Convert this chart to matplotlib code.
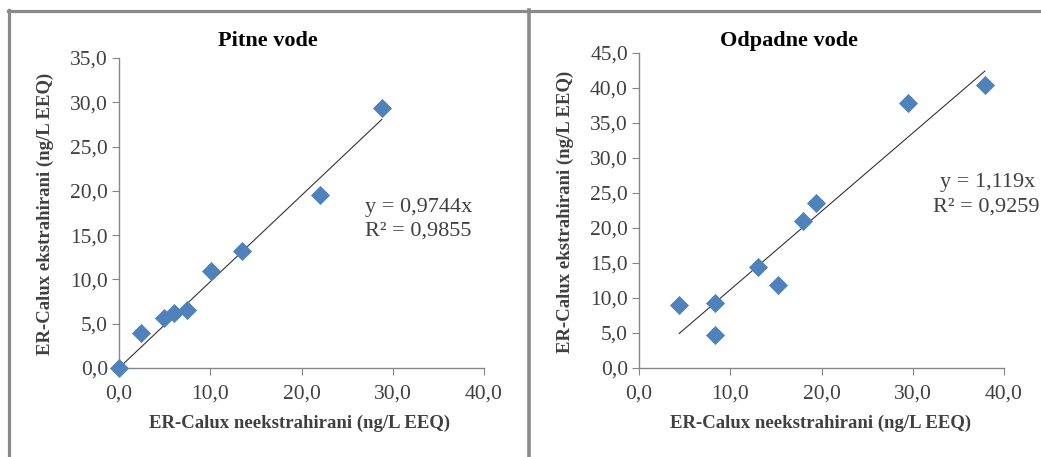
import matplotlib
matplotlib.use("Agg")
import matplotlib.pyplot as plt
from matplotlib.lines import Line2D
import numpy as np

plt.rcParams['font.family'] = ['Liberation Serif', 'DejaVu Serif']

# Pitne vode (drinking water)
pitne_x = [0.0, 2.4, 4.9, 6.0, 7.5, 10.1, 13.5, 22.0, 28.8]
pitne_y = [0.0, 4.0, 5.6, 6.2, 6.6, 11.0, 13.2, 19.5, 29.4]
pitne_slope = 0.9744
pitne_r2 = 0.9855

# Odpadne vode (waste water)
odpadne_x = [4.4, 8.3, 8.3, 13.0, 15.2, 18.0, 19.4, 29.5, 37.9]
odpadne_y = [9.0, 9.3, 4.7, 14.4, 11.8, 21.0, 23.6, 37.9, 40.5]
odpadne_slope = 1.119
odpadne_r2 = 0.9259

x_ticks = [0, 10, 20, 30, 40]
pitne_yticks = [0, 5, 10, 15, 20, 25, 30, 35]
odpadne_yticks = [0, 5, 10, 15, 20, 25, 30, 35, 40, 45]

xlabel = 'ER-Calux neekstrahirani (ng/L EEQ)'
ylabel = 'ER-Calux ekstrahirani (ng/L EEQ)'

W, H = 1041, 457
fig = plt.figure(figsize=(W / 100, H / 100), dpi=100)

BLUE = '#4F81BD'
AXC = '#868686'
TXT = '#404040'


def fmt(v):
    return f'{v:.1f}'.replace('.', ',')


def setup(ax, xs, ys, slope, yticks):
    ax.scatter(xs, ys, marker='D', s=95, color=BLUE, zorder=3, linewidths=0,
               clip_on=False)
    xx = np.array([min(xs), max(xs)])
    ax.plot(xx, slope * xx, color='#333333', lw=0.8, zorder=2)
    ax.set_xlim(0, 40)
    ax.set_ylim(0, yticks[-1])
    ax.set_xticks(x_ticks)
    ax.set_xticklabels([fmt(t) for t in x_ticks])
    ax.set_yticks(yticks)
    ax.set_yticklabels([fmt(t) for t in yticks])
    for s in ['top', 'right']:
        ax.spines[s].set_visible(False)
    for s in ['left', 'bottom']:
        ax.spines[s].set_color(AXC)
        ax.spines[s].set_linewidth(1.0)
    ax.tick_params(colors=AXC, labelcolor=TXT, labelsize=15.5, length=5,
                   direction='out')
    ax.tick_params(axis='x', pad=7)
    ax.tick_params(axis='y', pad=3)


ax1 = fig.add_axes([119 / W, 1 - 368 / H, 365 / W, 310 / H])
setup(ax1, pitne_x, pitne_y, pitne_slope, pitne_yticks)
ax2 = fig.add_axes([639 / W, 1 - 368 / H, 365 / W, 315 / H])
setup(ax2, odpadne_x, odpadne_y, odpadne_slope, odpadne_yticks)


# titles and axis labels placed in figure pixels
def ftext(x, y, s, **kw):
    fig.text(x / W, 1 - y / H, s, **kw)


ftext(268, 41, 'Pitne vode', ha='center', va='center', fontsize=16,
      fontweight='bold', color='black')
ftext(789, 41, 'Odpadne vode', ha='center', va='center', fontsize=16,
      fontweight='bold', color='black')
ftext(300, 423, xlabel, ha='center', va='center', fontsize=13.5,
      fontweight='bold', color=TXT)
ftext(821, 423, xlabel, ha='center', va='center', fontsize=13.5,
      fontweight='bold', color=TXT)
ftext(45, 214, ylabel, ha='center', va='center', rotation=90, fontsize=13.5,
      fontweight='bold', color=TXT)
ftext(565, 212, ylabel, ha='center', va='center', rotation=90, fontsize=13.5,
      fontweight='bold', color=TXT)

# trendline equations
ftext(365, 207, 'y = ' + f'{pitne_slope:.4f}'.replace('.', ',') + 'x',
      ha='left', va='center', fontsize=16, color=TXT)
ftext(365, 231, 'R² = ' + f'{pitne_r2:.4f}'.replace('.', ','),
      ha='left', va='center', fontsize=16, color=TXT)
ftext(1035, 183, 'y = ' + f'{odpadne_slope:.3f}'.replace('.', ',') + 'x',
      ha='right', va='center', fontsize=16, color=TXT)
ftext(933, 207, 'R² = ' + f'{odpadne_r2:.4f}'.replace('.', ','),
      ha='left', va='center', fontsize=16, color=TXT)

# panel borders
BC = '#8a8a8a'
fig.add_artist(Line2D([8 / W, 1], [1 - 11 / H, 1 - 11 / H], color=BC, lw=2.3))
fig.add_artist(Line2D([9 / W, 9 / W], [0, 1 - 10 / H], color=BC, lw=2.3))
fig.add_artist(Line2D([529 / W, 529 / W], [0, 1 - 10 / H], color=BC, lw=2.6))

fig.savefig('out.png', dpi=100)
